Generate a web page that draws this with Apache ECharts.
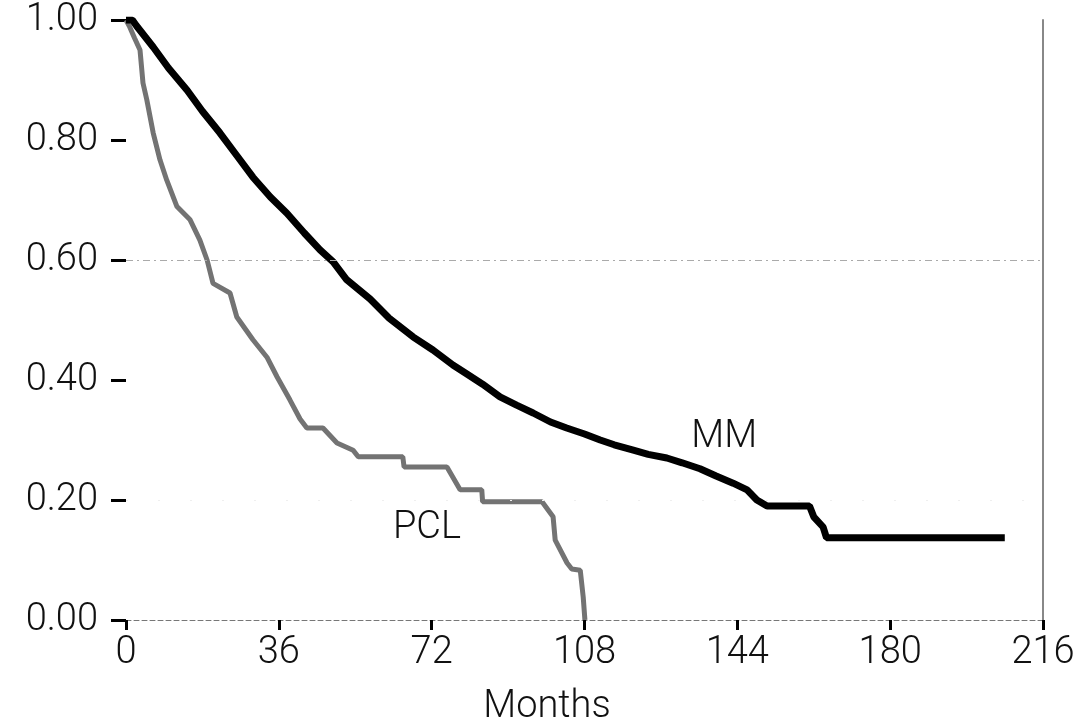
<!DOCTYPE html>
<html>
<head>
<meta charset="utf-8">
<script src="https://cdn.jsdelivr.net/npm/echarts@6/dist/echarts.min.js"></script>
<style>
  html, body { margin: 0; padding: 0; background: #fff; }
  #chart { width: 1073px; height: 720px; }
</style>
</head>
<body>
<div id="chart"></div>
<script>
// Kaplan-Meier curves MM vs PCL

const xTicks = [0, 36, 72, 108, 144, 180, 216];
const yTicks = [0, 0.2, 0.4, 0.6, 0.8, 1.0];

const mmMonths = [0, 1.5, 2.5, 6.4, 10, 14.4, 18, 22.1, 26, 29.9, 34, 37.9, 42, 45.7, 48.8, 52, 57.5, 62, 67.6,
    72.3, 77, 80.3, 84, 88.1, 92, 95.9, 100, 103.8, 108, 111.7, 115, 119.5, 123, 127.4, 131, 135.2, 139, 143,
    146.3, 148.6, 151, 161, 162, 164.2, 165, 207];
const mmSurv = [1.0, 1.0, 0.99, 0.955, 0.92, 0.883, 0.848, 0.812, 0.775, 0.738, 0.705, 0.678, 0.645, 0.617, 0.597, 0.567, 0.535, 0.503, 0.472,
    0.45, 0.425, 0.41, 0.393, 0.372, 0.358, 0.345, 0.33, 0.32, 0.31, 0.30, 0.292, 0.283, 0.276, 0.27, 0.262, 0.252, 0.24, 0.228,
    0.217, 0.20, 0.19, 0.19, 0.172, 0.155, 0.137, 0.137];

const pclMonths = [0, 0.9, 2, 3.3, 4, 4.9, 6.4, 8, 9.6, 12, 15.1, 17.4, 19.1, 20.5, 24.5, 26.1, 29.9, 33.2, 35.6,
    38.6, 41, 42.6, 46.4, 49.7, 53.5, 54.7, 65.2, 65.5, 75.6, 78.7, 83.8, 84, 98, 100.6, 101.1, 103.9, 105, 107,
    107.7, 108.1];
const pclSurv = [1.0, 0.988, 0.97, 0.95, 0.895, 0.867, 0.812, 0.767, 0.733, 0.689, 0.667, 0.633, 0.60, 0.561, 0.545, 0.505, 0.467, 0.438, 0.405,
    0.367, 0.335, 0.32, 0.32, 0.295, 0.283, 0.272, 0.272, 0.255, 0.255, 0.217, 0.217, 0.197, 0.197, 0.172, 0.133, 0.095, 0.085, 0.083,
    0.038, 0];

const labelMM = { name: 'MM', coord: [140.9, 0.305] };
const labelPCL = { name: 'PCL', coord: [70.9, 0.153] };

const font = 'Roboto';

const chart = echarts.init(document.getElementById('chart'));

function pairs(xs, ys) {
    return xs.map((x, i) => [x, ys[i]]);
}

function curveLabel(item) {
    return {
        symbol: 'rect',
        symbolSize: 1,
        itemStyle: { color: 'rgba(0,0,0,0)' },
        label: {
            show: true,
            position: 'inside',
            formatter: item.name,
            fontFamily: font,
            fontWeight: 300,
            fontSize: 38,
            color: '#111'
        },
        data: [{ coord: item.coord }]
    };
}

const option = {
    animation: false,
    backgroundColor: '#fff',
    grid: { left: 126, right: 30, top: 20, bottom: 100, outerBoundsMode: 'none' },
    xAxis: {
        type: 'value',
        min: 0,
        max: 216,
        interval: 36,
        name: 'Months',
        nameLocation: 'middle',
        nameGap: 68,
        nameTextStyle: { fontFamily: font, fontWeight: 300, fontSize: 38, color: '#111', padding: [0, 75, 0, 0] },
        axisLine: { show: true, lineStyle: { color: '#777', width: 1, type: [5, 3] } },
        axisTick: { show: true, length: 10, lineStyle: { color: '#000', width: 3 } },
        axisLabel: {
            margin: 14,
            fontFamily: font,
            fontWeight: 300,
            fontSize: 38,
            color: '#111',
            formatter: v => xTicks.includes(v) ? String(v) : ''
        },
        splitLine: { show: false }
    },
    yAxis: [{
        type: 'value',
        min: 0,
        max: 1,
        interval: 0.2,
        axisLine: { show: false },
        axisTick: { show: true, length: 15, lineStyle: { color: '#000', width: 3 } },
        axisLabel: {
            margin: 28,
            fontFamily: font,
            fontWeight: 300,
            fontSize: 38,
            color: '#111',
            formatter: v => yTicks.some(t => Math.abs(t - v) < 1e-9) ? v.toFixed(2) : ''
        },
        splitLine: { show: false }
    }, {
        type: 'value',
        position: 'right',
        min: 0,
        max: 1,
        axisLine: { show: true, lineStyle: { color: '#888', width: 2 } },
        axisTick: { show: false },
        axisLabel: { show: false },
        splitLine: { show: false }
    }],
    series: [
        {
            name: 'PCL',
            type: 'line',
            data: pairs(pclMonths, pclSurv),
            showSymbol: false,
            lineStyle: { color: '#737373', width: 5 },
            z: 3,
            markPoint: curveLabel(labelPCL),
            markLine: {
                silent: true,
                symbol: 'none',
                label: { show: false },
                data: [
                    { yAxis: 0.6, lineStyle: { color: '#aaa', width: 1, type: [7, 4, 2, 4] } },
                    { yAxis: 0.2, lineStyle: { color: '#efefef', width: 1, type: [2, 30] } }
                ]
            }
        },
        {
            name: 'MM',
            type: 'line',
            data: pairs(mmMonths, mmSurv),
            showSymbol: false,
            lineStyle: { color: '#000', width: 7 },
            z: 4,
            markPoint: curveLabel(labelMM)
        }
    ]
};

chart.setOption(option);
</script>
</body>
</html>
